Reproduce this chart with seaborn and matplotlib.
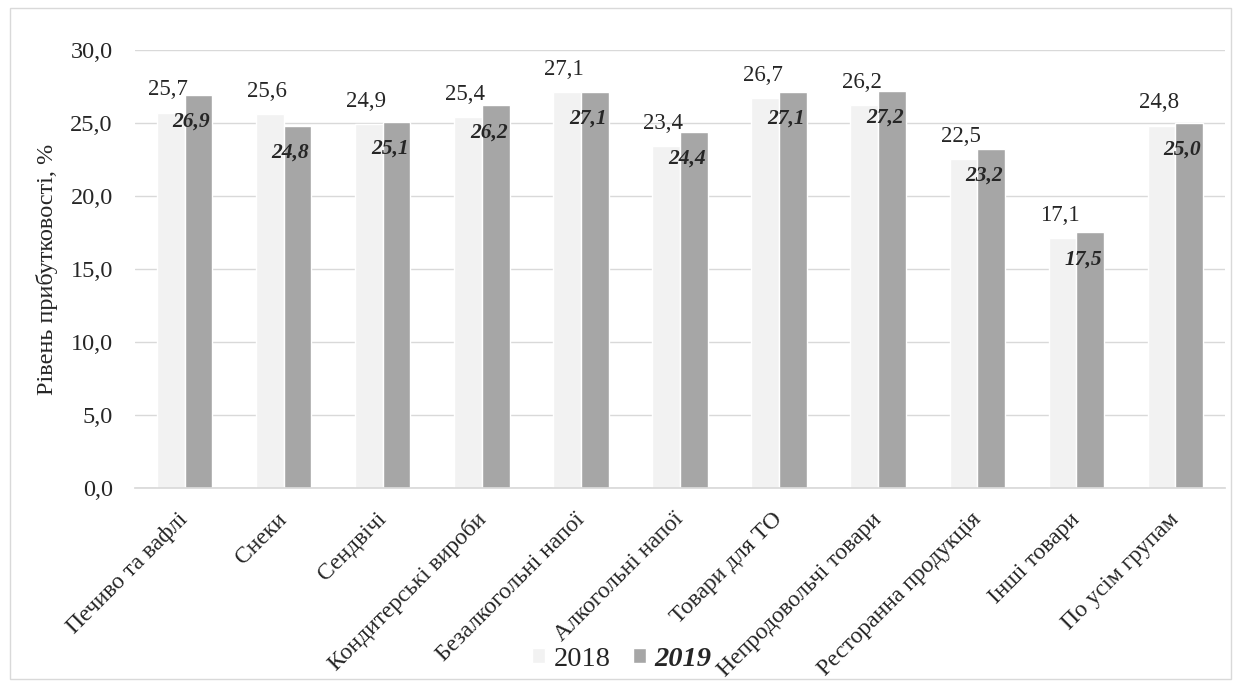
import matplotlib
matplotlib.use("Agg")
import matplotlib.pyplot as plt
import seaborn as sns
import pandas as pd
from matplotlib.patches import Rectangle, Patch
import matplotlib.transforms as mtransforms

categories = ["Печиво та вафлі", "Снеки", "Сендвічі", "Кондитерські вироби",
              "Безалкогольні напої", "Алкогольні напої", "Товари для ТО",
              "Непродовольчі товари", "Ресторанна продукція", "Інші товари",
              "По усім групам"]
values_2018 = [25.7, 25.6, 24.9, 25.4, 27.1, 23.4, 26.7, 26.2, 22.5, 17.1, 24.8]
values_2019 = [26.9, 24.8, 25.1, 26.2, 27.1, 24.4, 27.1, 27.2, 23.2, 17.5, 25.0]
years = ["2018", "2019"]
yticks = [0, 5, 10, 15, 20, 25, 30]

sns.set_theme(style="white")
plt.rcParams['font.family'] = ['Liberation Serif', 'DejaVu Serif']

df = pd.DataFrame({
    "cat": categories * 2,
    "val": values_2018 + values_2019,
    "year": [years[0]] * len(categories) + [years[1]] * len(categories),
})

fig = plt.figure(figsize=(12.41, 6.87), dpi=100)
ax = fig.add_axes([135/1241, 1 - 488/687, 1090/1241, 438/687])
fig.patches.append(Rectangle((10/1241, 8/687), 1221/1241, 671/687, transform=fig.transFigure,
                             fill=False, edgecolor="#D9D9D9", linewidth=1.0))

palette = {"2018": "#F2F2F2", "2019": "#A6A6A6"}
sns.barplot(data=df, x="cat", y="val", hue="year", palette=palette, ax=ax,
            width=0.56, gap=0, legend=False, saturation=1)

ax.set_ylim(0, 30)
ax.set_yticks(yticks)
ax.set_yticklabels([f"{v:.1f}".replace(".", ",") for v in yticks], fontsize=17.5)
ax.yaxis.grid(True, color="#D9D9D9", linewidth=1)
ax.set_axisbelow(True)
for s in ["top", "right", "left"]:
    ax.spines[s].set_visible(False)
ax.spines["bottom"].set_color("#D9D9D9")
ax.tick_params(axis="y", length=0, pad=16)
ax.tick_params(axis="x", length=0, pad=15)
ax.set_xlabel("")
ax.set_ylabel("Рівень прибутковості, %", fontsize=17.5)
ax.yaxis.set_label_coords(-(135 - 58) / 1090, 0.5)
ax.set_xlim(-0.5, len(categories) - 0.5)
ax.set_xticks(range(len(categories)))
ax.set_xticklabels(categories, rotation=45, ha="right", va="top",
                   rotation_mode="anchor", fontsize=17)
shift = mtransforms.ScaledTranslation(-5/72, 0, fig.dpi_scale_trans)
for lbl in ax.get_xticklabels():
    lbl.set_transform(lbl.get_transform() + shift)

cont18, cont19 = ax.containers[0], ax.containers[1]
for bar, v in zip(cont18, values_2018):
    ax.annotate(f"{v:.1f}".replace(".", ","), (bar.get_x() + bar.get_width()/2, v),
                xytext=(-2, 9), textcoords="offset points", ha="center", va="bottom", fontsize=16.5)
for bar, v in zip(cont19, values_2019):
    ax.annotate(f"{v:.1f}".replace(".", ","), (bar.get_x() + bar.get_width()/2, v),
                xytext=(-5, -12), textcoords="offset points", ha="center", va="top",
                fontsize=15.5, fontweight="bold", fontstyle="italic")

handles = [Patch(facecolor=palette["2018"]), Patch(facecolor=palette["2019"])]
leg = fig.legend(handles, years, loc="center", bbox_to_anchor=(622/1241, 1 - 659/687),
                 ncol=2, frameon=False, fontsize=20.5, handlelength=0.45, handleheight=0.45,
                 handletextpad=0.3, columnspacing=0.8)
leg.get_texts()[1].set_fontweight("bold")
leg.get_texts()[1].set_fontstyle("italic")

fig.savefig("out.png", dpi=100, facecolor="white")
